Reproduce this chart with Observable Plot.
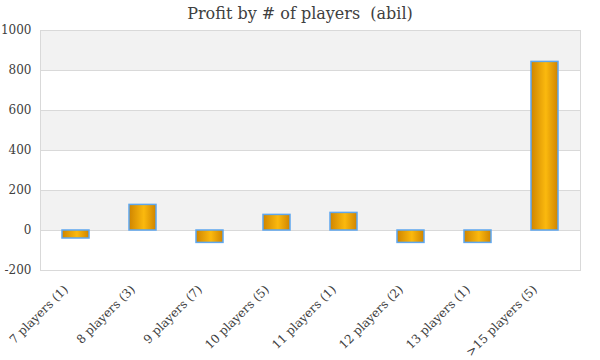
<!DOCTYPE html>
<html>
<head>
<meta charset="utf-8">
<script src="https://cdn.jsdelivr.net/npm/d3@7"></script>
<script src="https://cdn.jsdelivr.net/npm/@observablehq/plot@0.6"></script>
<style>
  body { margin: 0; background: #fff; }
  #title { width: 600px; height: 24px; text-align: center; font-family: "DejaVu Serif", "Liberation Serif", serif; font-size: 16px; color: #404040; line-height: 28px; }
</style>
</head>
<body>
<div id="title">Profit by # of players&nbsp; (abil)</div>
<div id="chart"></div>
<script>
const categories = ["7 players (1)", "8 players (3)", "9 players (7)", "10 players (5)", "11 players (1)", "12 players (2)", "13 players (1)", ">15 players (5)"];
const profits = [-40, 128, -62, 78, 88, -62, -62, 843];
const yTicks = [-200, 0, 200, 400, 600, 800, 1000];
const bandStarts = [0, 400, 800];

const data = categories.map((c, i) => ({category: c, profit: profits[i]}));
const bands = bandStarts.map(b => ({y1: b, y2: b + 200}));

const chart = Plot.plot({
  width: 600,
  height: 336,
  marginTop: 6,
  marginBottom: 90,
  marginLeft: 40,
  marginRight: 20,
  style: {fontFamily: "'DejaVu Serif', 'Liberation Serif', serif", fontSize: "12px", color: "#404040", background: "#fff"},
  x: {domain: categories, paddingInner: 0.6, paddingOuter: 0.3, label: null},
  y: {domain: [-200, 1000], ticks: yTicks, label: null},
  marks: [
    Plot.rectY(bands, {y1: "y1", y2: "y2", fill: "#f2f2f2"}),
    Plot.gridY(yTicks, {stroke: "#d9d9d9", strokeOpacity: 1}),
    Plot.frame({stroke: "#d9d9d9"}),
    Plot.axisY({ticks: yTicks, tickSize: 0, tickPadding: 9, fontSize: 12, label: null, tickFormat: d => String(d)}),
    Plot.axisX({tickSize: 0, tickRotate: -45, tickPadding: 8, fontSize: 12, label: null, dx: -10, dy: 9}),
    Plot.barY(data, {x: "category", y: "profit", fill: "url(#barGrad)", stroke: "#5ea7ef", strokeWidth: 1.5})
  ]
});

const ns = "http://www.w3.org/2000/svg";
const defs = document.createElementNS(ns, "defs");
const grad = document.createElementNS(ns, "linearGradient");
grad.setAttribute("id", "barGrad");
grad.setAttribute("x1", "0"); grad.setAttribute("x2", "1");
grad.setAttribute("y1", "0"); grad.setAttribute("y2", "0");
[["0%", "#cf8500"], ["55%", "#fbb90e"], ["100%", "#cf8400"]].forEach(([o, c]) => {
  const s = document.createElementNS(ns, "stop");
  s.setAttribute("offset", o); s.setAttribute("stop-color", c);
  grad.appendChild(s);
});
defs.appendChild(grad);
chart.insertBefore(defs, chart.firstChild);
document.getElementById("chart").appendChild(chart);
</script>
</body>
</html>
